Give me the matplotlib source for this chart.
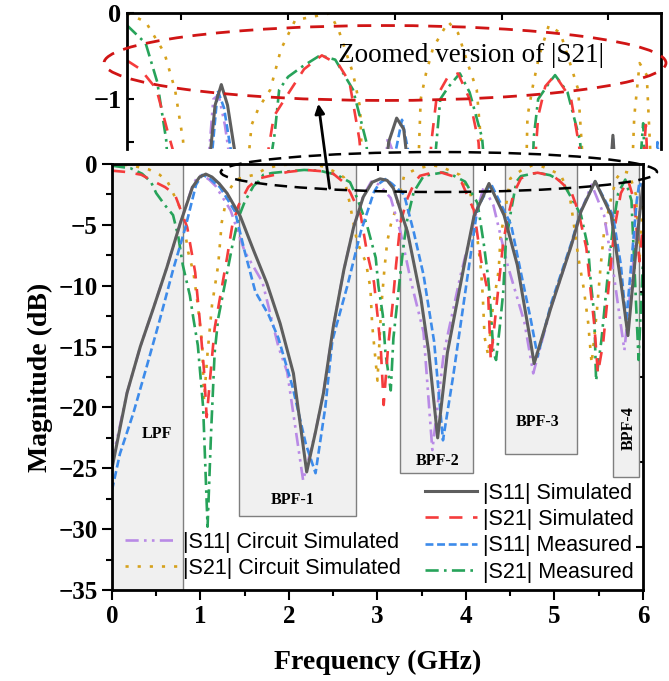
import numpy as np
import matplotlib
matplotlib.use('Agg')
import matplotlib.pyplot as plt
from matplotlib.patches import Rectangle, Ellipse, FancyArrowPatch

# ---- data (frequency in GHz, magnitude in dB) ----
s11_sim_f = [0.0, 0.17, 0.32, 0.47, 0.62, 0.77, 0.91, 0.99, 1.06, 1.13, 1.21, 1.3, 1.45, 1.6, 1.75, 1.9,
             2.05, 2.2, 2.3, 2.39, 2.5, 2.62, 2.73, 2.84, 2.94, 3.03, 3.11, 3.18, 3.34, 3.49, 3.58, 3.68,
             3.79, 3.98, 4.09, 4.26, 4.43, 4.58, 4.73, 4.77, 4.96, 5.19, 5.3, 5.46, 5.64, 5.75, 5.83, 5.94, 6.0]
s11_sim_db = [-25.0, -18.8, -15.0, -11.8, -8.5, -4.9, -1.9, -1.07, -0.83, -1.07, -1.6, -2.4, -4.3, -7.1, -9.8, -13.1,
              -17.2, -25.3, -22.0, -18.8, -13.4, -8.7, -5.2, -2.7, -1.5, -1.22, -1.35, -2.0, -5.6, -11.0, -15.5, -22.5,
              -15.5, -8.3, -4.3, -1.6, -4.2, -8.3, -14.6, -16.4, -11.8, -6.7, -3.9, -1.42, -4.2, -9.7, -14.1, -5.6, -1.7]

s21_sim_f = [0.0, 0.15, 0.33, 0.45, 0.6, 0.71, 0.85, 0.94, 0.99, 1.04, 1.07, 1.11, 1.16, 1.22, 1.3, 1.36, 1.43,
             1.54, 1.65, 1.79, 1.99, 2.19, 2.38, 2.5, 2.61, 2.69, 2.81, 2.88, 2.96, 3.0, 3.04, 3.07, 3.12, 3.17,
             3.21, 3.26, 3.34, 3.42, 3.48, 3.6, 3.72, 3.85, 3.95, 4.09, 4.17, 4.25, 4.28, 4.36, 4.42, 4.47, 4.54,
             4.62, 4.7, 4.81, 4.99, 5.07, 5.19, 5.27, 5.36, 5.41, 5.45, 5.49, 5.55, 5.6, 5.64, 5.68, 5.75, 5.83,
             5.9, 5.96, 6.0]
s21_sim_db = [-0.55, -0.65, -0.88, -1.35, -1.9, -2.5, -5.2, -8.9, -12.7, -17.0, -20.8, -17.5, -13.5, -11.0, -7.7, -5.0, -3.4,
              -1.9, -1.2, -0.97, -0.65, -0.49, -0.6, -0.8, -1.46, -2.3, -4.2, -7.2, -9.7, -12.4, -15.5, -19.8, -15.0, -11.6,
              -8.3, -4.8, -2.8, -1.5, -0.97, -0.75, -0.70, -1.0, -1.5, -3.8, -7.9, -10.6, -16.1, -10.6, -6.5, -4.4, -2.4,
              -1.2, -0.85, -0.72, -1.0, -1.48, -2.3, -3.9, -6.9, -10.5, -13.2, -17.2, -14.7, -11.0, -7.9, -5.2, -2.4, -1.3,
              -3.0, -8.0, -5.0]

s11_meas_f = [0.0, 0.09, 0.24, 0.39, 0.54, 0.69, 0.83, 0.95, 1.02, 1.09, 1.16, 1.22, 1.39, 1.5, 1.62, 1.77, 1.88,
              2.04, 2.19, 2.3, 2.41, 2.49, 2.66, 2.81, 2.96, 3.02, 3.09, 3.16, 3.3, 3.41, 3.52, 3.64, 3.74, 3.86,
              4.02, 4.13, 4.28, 4.51, 4.62, 4.73, 4.81, 4.96, 5.19, 5.3, 5.46, 5.66, 5.75, 5.81, 5.87, 5.93, 5.96, 6.0]
s11_meas_db = [-26.8, -23.8, -20.5, -16.7, -12.8, -8.7, -5.2, -1.7, -0.9, -1.1, -1.55, -1.9, -3.9, -7.2, -10.5, -12.4, -14.3,
               -18.3, -23.0, -25.4, -20.0, -14.5, -10.0, -5.6, -2.3, -1.6, -1.24, -1.6, -2.5, -5.6, -9.1, -14.6, -22.7, -17.2,
               -9.1, -3.6, -1.6, -5.0, -8.9, -12.7, -15.8, -11.5, -6.5, -3.8, -1.45, -4.2, -8.3, -13.0, -8.0, -3.0, -1.5, -2.0]

s21_meas_f = [0.0, 0.21, 0.34, 0.44, 0.5, 0.6, 0.69, 0.75, 0.8, 0.88, 0.92, 0.97, 1.03, 1.08, 1.12, 1.16, 1.2,
              1.28, 1.36, 1.43, 1.5, 1.6, 1.66, 1.71, 1.81, 1.97, 2.17, 2.34, 2.54, 2.69, 2.77, 2.88, 2.98, 3.01,
              3.06, 3.09, 3.15, 3.18, 3.22, 3.26, 3.3, 3.34, 3.41, 3.52, 3.61, 3.74, 3.85, 3.99, 4.13, 4.2, 4.25,
              4.28, 4.31, 4.34, 4.38, 4.42, 4.45, 4.51, 4.57, 4.62, 4.75, 4.81, 4.95, 5.09, 5.3, 5.38, 5.41, 5.45,
              5.47, 5.53, 5.6, 5.66, 5.72, 5.8, 5.87, 5.95, 6.0]
s21_meas_db = [-0.14, -0.35, -0.8, -1.47, -2.4, -3.4, -4.2, -6.0, -8.3, -10.8, -12.7, -14.9, -20.0, -29.8, -22.0, -15.5, -12.7,
               -9.7, -6.7, -4.4, -3.1, -1.8, -1.4, -0.89, -0.74, -0.62, -0.49, -0.54, -0.89, -1.5, -2.8, -5.0, -7.7, -10.0,
               -12.4, -15.5, -18.6, -14.3, -11.6, -8.9, -6.4, -4.4, -2.3, -1.0, -0.86, -0.7, -0.92, -1.45, -3.2, -6.5, -9.3,
               -12.0, -15.5, -16.1, -13.5, -10.6, -6.5, -3.8, -1.45, -1.0, -0.8, -0.72, -0.92, -1.48, -4.2, -6.9, -9.7, -12.4,
               -17.8, -14.5, -9.3, -5.2, -2.4, -1.28, -3.0, -16.1, -8.0]

s11_circ_f = [0.0, 0.17, 0.32, 0.47, 0.62, 0.77, 0.91, 0.97, 1.03, 1.1, 1.17, 1.34, 1.5, 1.7, 1.88, 1.98, 2.16,
              2.3, 2.39, 2.5, 2.62, 2.73, 2.84, 2.93, 3.02, 3.15, 3.26, 3.38, 3.52, 3.62, 3.75, 3.94, 4.09, 4.2,
              4.31, 4.47, 4.66, 4.76, 4.96, 5.19, 5.3, 5.42, 5.56, 5.67, 5.79, 5.92, 6.0]
s11_circ_db = [-24.5, -18.8, -15.0, -11.8, -8.5, -4.9, -1.8, -1.0, -0.95, -1.3, -1.8, -3.8, -7.2, -9.7, -15.0, -17.1, -26.0,
               -22.0, -18.8, -13.4, -8.7, -5.2, -2.6, -1.45, -1.7, -2.8, -5.6, -9.7, -13.8, -23.5, -15.5, -9.1, -4.7, -1.9,
               -3.4, -8.3, -13.0, -17.2, -11.8, -6.7, -3.9, -1.7, -4.2, -9.1, -15.3, -6.0, -2.0]

s21_circ_f = [0.0, 0.21, 0.42, 0.54, 0.63, 0.79, 0.86, 0.92, 0.97, 1.02, 1.04, 1.08, 1.13, 1.2, 1.24, 1.31, 1.4,
              1.48, 1.61, 1.73, 1.89, 2.28, 2.38, 2.54, 2.62, 2.68, 2.77, 2.87, 2.92, 2.94, 3.0, 3.04, 3.08, 3.11,
              3.15, 3.22, 3.3, 3.36, 3.44, 3.61, 3.72, 3.84, 3.93, 4.05, 4.13, 4.17, 4.19, 4.21, 4.25, 4.3, 4.37,
              4.39, 4.45, 4.5, 4.56, 4.63, 4.74, 4.87, 4.99, 5.07, 5.17, 5.22, 5.27, 5.33, 5.38, 5.42, 5.48, 5.52,
              5.56, 5.64, 5.7, 5.76, 5.84, 5.92, 5.96, 6.0]
s21_circ_db = [0.0, -0.1, -0.46, -0.89, -1.48, -3.9, -7.2, -8.9, -11.6, -14.9, -19.4, -15.5, -11.6, -8.3, -4.8, -2.3, -1.3,
               -1.1, -0.89, -0.42, -0.08, 0.0, -0.2, -0.7, -1.1, -3.0, -6.4, -8.1, -10.2, -13.2, -17.8, -12.0, -8.5, -6.4,
               -5.0, -3.4, -1.0, -0.7, -0.4, -0.1, -0.23, -0.62, -0.89, -2.4, -6.2, -8.7, -10.9, -14.2, -15.7, -12.0, -8.7,
               -6.0, -3.5, -1.2, -0.85, -0.5, -0.14, -0.23, -0.62, -0.89, -2.5, -5.0, -7.7, -10.2, -13.0, -16.4, -12.0, -8.5,
               -5.6, -2.8, -1.2, -0.58, -0.72, -2.5, -8.0, -3.0]

# filter bands: name, start, stop, box bottom (dB)
band_names = ['LPF', 'BPF-1', 'BPF-2', 'BPF-3', 'BPF-4']
band_start = [0.0, 1.44, 3.26, 4.44, 5.66]
band_stop = [0.80, 2.76, 4.08, 5.25, 5.96]
band_bottom = [-35.0, -28.9, -25.4, -23.8, -25.7]
label_x = [0.51, 2.04, 3.68, 4.81, 5.84]
label_y = [-22.2, -27.6, -24.4, -21.2, -21.7]

series = [
    (s21_circ_f, s21_circ_db, '#d6a11c', (0, (1.2, 3.4)), 1.9, '|S21| Circuit Simulated'),
    (s11_circ_f, s11_circ_db, '#b98ae6', (0, (5, 2, 1, 2, 1, 2)), 1.9, '|S11| Circuit Simulated'),
    (s21_meas_f, s21_meas_db, '#27a35a', (0, (5, 2, 1, 2)), 1.9, '|S21| Measured'),
    (s21_sim_f, s21_sim_db, '#f53c3c', (0, (5, 4)), 1.9, '|S21| Simulated'),
    (s11_meas_f, s11_meas_db, '#3d8bea', (0, (3, 1.4)), 1.9, '|S11| Measured'),
    (s11_sim_f, s11_sim_db, '#5e5e5e', '-', 2.2, '|S11| Simulated'),
]

serif = 'Liberation Serif'
sans = 'Liberation Sans'

fig = plt.figure(figsize=(6.69, 6.81), dpi=100)

# zoomed inset on top
axi = fig.add_axes([0.1898, 0.7812, 0.7982, 0.1993])
lines = {}
for f, db, c, ls, lw, lab in series:
    axi.plot(f, db, color=c, linestyle=ls, linewidth=lw)
axi.set_xlim(0, 6)
axi.set_ylim(-1.58, 0)
axi.set_yticks([0, -1])
axi.set_yticklabels(['0', '\u22121'])
axi.set_yticks([-1.5], minor=True)
axi.set_xticks([0.61, 1.81, 3.01, 4.21, 5.41])
axi.tick_params(axis='x', which='both', bottom=False, labelbottom=False, top=True, direction='in', length=5, width=1.5)
axi.tick_params(axis='y', which='both', direction='in', length=5, width=1.5, labelsize=19, pad=4)
axi.spines['bottom'].set_visible(False)
for s in ['left', 'top', 'right']:
    axi.spines[s].set_linewidth(2)
for t in axi.get_yticklabels():
    t.set_fontfamily(serif)
    t.set_fontweight('bold')

# main axes
ax = fig.add_axes([0.1674, 0.1336, 0.7937, 0.6256])
for x0, x1, yb in zip(band_start, band_stop, band_bottom):
    ax.add_patch(Rectangle((x0, yb), x1 - x0, -yb, facecolor='#f0f0f0', edgecolor='#7f7f7f',
                           linewidth=1, zorder=0.5))
for name, x, y in zip(band_names, label_x, label_y):
    ax.text(x, y, name, ha='center', va='center', fontsize=11.5, fontweight='bold',
            family=serif, rotation=90 if name == 'BPF-4' else 0, zorder=1)

handles = {}
for f, db, c, ls, lw, lab in series:
    h, = ax.plot(f, db, color=c, linestyle=ls, linewidth=lw, zorder=2)
    handles[lab] = h

ax.set_xlim(0, 6)
ax.set_ylim(-35, 0)
ax.set_xticks(np.arange(0, 7, 1))
ax.set_xticks(np.arange(0.5, 6, 1), minor=True)
ax.set_yticks(np.arange(-35, 1, 5))
ax.set_yticks(np.arange(-32.5, 0, 5), minor=True)
ax.set_yticklabels([str(v).replace('-', '\u2212') for v in range(-35, 1, 5)])
ax.tick_params(which='major', direction='out', length=7, width=1.5, labelsize=18)
ax.tick_params(which='minor', direction='out', length=4, width=1.5)
for s in ax.spines.values():
    s.set_linewidth(2)
for t in ax.get_xticklabels() + ax.get_yticklabels():
    t.set_fontfamily(serif)
    t.set_fontweight('bold')

# odd tick marks on top and right edges
axt = ax.secondary_xaxis('top')
axt.set_xticks([0.61, 1.81, 3.01, 4.21, 5.41])
axt.tick_params(direction='in', length=5, width=1.5, labeltop=False)
axr = ax.secondary_yaxis('right')
axr.set_yticks([-3.5, -10.5, -17.5, -24.5, -31.5])
axr.tick_params(direction='in', length=5, width=1.5, labelright=False)

ax.set_xlabel('Frequency (GHz)', fontsize=20, fontweight='bold', family=serif, labelpad=16)
ax.set_ylabel('Magnitude (dB)', fontsize=20, fontweight='bold', family=serif, labelpad=4)

leg_props = dict(prop={'family': sans, 'size': 15.5}, handlelength=2.4, handletextpad=0.3,
                 labelspacing=0.25, borderpad=0.2, borderaxespad=0, fancybox=False,
                 framealpha=0, edgecolor='#888888')
left_labels = ['|S11| Circuit Simulated', '|S21| Circuit Simulated']
right_labels = ['|S11| Simulated', '|S21| Simulated', '|S11| Measured', '|S21| Measured']
leg1 = ax.legend([handles[l] for l in left_labels], left_labels, loc='lower left',
                 bbox_to_anchor=(0.017, 0.016), **leg_props)
leg1.get_frame().set_linewidth(1)
ax.add_artist(leg1)
leg2 = ax.legend([handles[l] for l in right_labels], right_labels, loc='lower right',
                 bbox_to_anchor=(0.991, 0.007), **leg_props)
leg2.get_frame().set_linewidth(1)

# annotations: ellipses, arrow, caption
fig.add_artist(Ellipse((0.5755, 0.9075), 0.840, 0.110, transform=fig.transFigure, fill=False,
                       edgecolor='#d01515', linewidth=2, linestyle=(0, (5, 3.5))))
fig.add_artist(Ellipse((0.656, 0.7474), 0.652, 0.0587, transform=fig.transFigure, fill=False,
                       edgecolor='black', linewidth=1.8, linestyle=(0, (5, 3))))
fig.add_artist(FancyArrowPatch((0.4933, 0.7195), (0.4753, 0.8517), transform=fig.transFigure,
                               arrowstyle='-|>', mutation_scale=14, linewidth=2, color='black'))
fig.text(0.505, 0.919, 'Zoomed version of |S21|', ha='left', va='center', fontsize=19.5, family=serif)

fig.savefig('out.png', dpi=100)
